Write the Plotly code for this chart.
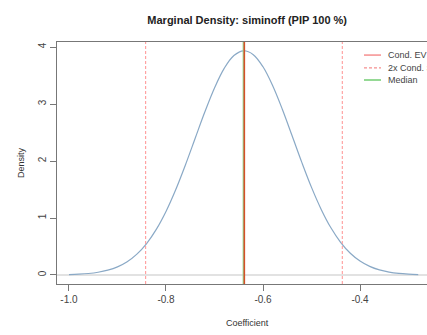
import plotly.graph_objects as go

# Density curve
coef = [-1.00, -0.98, -0.96, -0.94, -0.92, -0.90, -0.88, -0.86, -0.84, -0.82,
        -0.80, -0.78, -0.76, -0.74, -0.72, -0.70, -0.68, -0.66, -0.64, -0.62,
        -0.60, -0.58, -0.56, -0.54, -0.52, -0.50, -0.48, -0.46, -0.44, -0.42,
        -0.40, -0.38, -0.36, -0.34, -0.32, -0.30, -0.28]
density = [0.007, 0.014, 0.026, 0.048, 0.085, 0.143, 0.233, 0.366, 0.552, 0.800,
           1.115, 1.496, 1.930, 2.396, 2.859, 3.282, 3.626, 3.851, 3.934, 3.866,
           3.653, 3.321, 2.904, 2.443, 1.976, 1.537, 1.151, 0.828, 0.574, 0.382,
           0.245, 0.151, 0.089, 0.051, 0.028, 0.015, 0.007]

cond_ev = -0.6385
cond_sd_bounds = [-0.842, -0.4365]
median = -0.6405

x_ticks = [-1.0, -0.8, -0.6, -0.4]
x_tick_labels = ["-1.0", "-0.8", "-0.6", "-0.4"]
y_ticks = [0, 1, 2, 3, 4]
y_tick_labels = ["0", "1", "2", "3", "4"]

legend_labels = ["Cond. EV", "2x Cond. SD", "Median"]

FONT = "Liberation Sans, Arial, sans-serif"
RED_LEG = "#f58f8f"
RED_DASH = "#ff9c9c"
RED_EV = "#d4502a"
GREEN = "#95d995"

fig = go.Figure()
fig.add_trace(go.Scatter(x=coef, y=density, mode="lines",
                         line=dict(color="#8aa9c6", width=1.2, shape="spline"),
                         showlegend=False, hoverinfo="skip"))

shapes = []
for b in cond_sd_bounds:
    shapes.append(dict(type="line", xref="x", yref="paper", x0=b, x1=b, y0=0, y1=1,
                       line=dict(color=RED_DASH, width=1.1, dash="3px,2px")))
shapes.append(dict(type="line", xref="x", yref="paper", x0=median, x1=median, y0=0, y1=1,
                   line=dict(color=GREEN, width=1.5)))
shapes.append(dict(type="line", xref="x", yref="paper", x0=cond_ev, x1=cond_ev, y0=0, y1=1,
                   line=dict(color=RED_EV, width=1.6)))

# manual legend (clipped at right edge like the reference)
leg_y = [0.946, 0.893, 0.843]
leg_styles = [dict(color=RED_LEG, width=1.5),
              dict(color=RED_LEG, width=1.1, dash="3px,2px"),
              dict(color=GREEN, width=2)]
annotations = []
for lab, yy, st in zip(legend_labels, leg_y, leg_styles):
    shapes.append(dict(type="line", xref="paper", yref="paper", x0=0.8297, x1=0.8757,
                       y0=yy, y1=yy, line=st))
    annotations.append(dict(text=lab, xref="paper", yref="paper", x=0.8885, y=yy,
                            xanchor="left", yanchor="middle", showarrow=False,
                            font=dict(family=FONT, size=9, color="#444444")))

annotations.append(dict(text="Coefficient", xref="paper", yref="paper", x=0.516, y=-0.161,
                        xanchor="center", yanchor="middle", showarrow=False,
                        font=dict(family=FONT, size=9, color="#333333")))
annotations.append(dict(text="Density", xref="paper", yref="paper", x=-0.097, y=0.5,
                        xanchor="center", yanchor="middle", showarrow=False, textangle=-90,
                        font=dict(family=FONT, size=9, color="#333333")))

fig.update_layout(
    width=427, height=335,
    margin=dict(l=57, r=0, t=42, b=51),
    paper_bgcolor="white", plot_bgcolor="white",
    title=dict(text="<b>Marginal Density: siminoff (PIP 100 %)</b>", x=0.514, xref="paper",
               y=1 - 20 / 335, yref="container", yanchor="middle", xanchor="center",
               font=dict(family=FONT, size=11, color="#222222")),
    xaxis=dict(range=[-1.0247, -0.2619], showgrid=False, zeroline=False,
               showline=True, mirror=True, linecolor="#777777", linewidth=1,
               ticks="outside", ticklen=6, tickcolor="#777777",
               tickvals=x_ticks, ticktext=x_tick_labels,
               tickfont=dict(family=FONT, size=10, color="#444444")),
    yaxis=dict(range=[-0.158, 4.088], showgrid=False, zeroline=True,
               zerolinecolor="#e2e2e2", zerolinewidth=1.5,
               showline=True, linecolor="#777777", linewidth=1,
               ticks="outside", ticklen=6, tickcolor="#777777",
               tickvals=y_ticks, ticktext=y_tick_labels, tickangle=-90,
               tickfont=dict(family=FONT, size=10, color="#444444")),
    shapes=shapes, annotations=annotations,
)

fig.write_html("out.html")
